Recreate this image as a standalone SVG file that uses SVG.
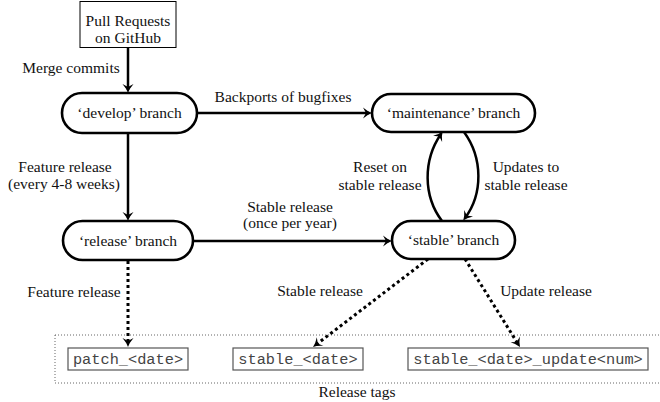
<svg xmlns="http://www.w3.org/2000/svg" width="660" height="402" viewBox="0 0 660 402">
<style>
  .t { font-family: "Liberation Serif", "Times New Roman", serif; font-size: 15.5px; fill: #111; text-anchor: middle; }
  .m { font-family: "Liberation Mono", "Courier New", monospace; font-size: 15.3px; fill: #444; text-anchor: middle; }
  .node { fill: #fff; stroke: #000; stroke-width: 2.6; }
  .box { fill: #fff; stroke: #000; stroke-width: 1; }
  .tag { fill: #fff; stroke: #555; stroke-width: 1.2; }
  .c { fill: none; stroke: #000; stroke-width: 2.5; marker-end: url(#ah); }
  .d { fill: none; stroke: #000; stroke-width: 3; stroke-dasharray: 3 3; marker-end: url(#ah); }
</style>
<defs>
  <marker id="ah" viewBox="-12 -7 14 14" refX="-3" refY="0" markerWidth="14" markerHeight="14" markerUnits="userSpaceOnUse" orient="auto">
    <path d="M-9,-5.5 Q-4,-1.2 0,0 Q-4,1.2 -9,5.5 L-6,0 Z" fill="#000"/>
  </marker>
</defs>
<rect x="55" y="335" width="620" height="48" fill="none" stroke="#666" stroke-width="1" stroke-dasharray="1 2"/>
<g id="connectors">
  <line class="c" x1="128" y1="48" x2="128" y2="90"/>
  <line class="c" x1="128" y1="133" x2="128" y2="218"/>
  <line class="c" x1="197" y1="113" x2="369" y2="113"/>
  <line class="c" x1="193" y1="241" x2="389" y2="241"/>
  <path class="c" d="M442,221 C423,196 423,160 441,134"/>
  <path class="c" d="M464,132 C483,158 483,194 465,218"/>
  <line class="d" x1="128" y1="261" x2="128" y2="344"/>
  <line class="d" x1="428" y1="259" x2="315.4" y2="345.2"/>
  <line class="d" x1="465" y1="259" x2="518.4" y2="344.5"/>
  <text class="t" x="71" y="73">Merge commits</text>
  <text class="t" x="283" y="102">Backports of bugfixes</text>
  <text class="t" x="65" y="172">Feature release</text>
  <text class="t" x="64" y="189">(every 4-8 weeks)</text>
  <text class="t" x="290" y="212">Stable release</text>
  <text class="t" x="290" y="228">(once per year)</text>
  <text class="t" x="380" y="172">Reset on</text>
  <text class="t" x="380" y="190">stable release</text>
  <text class="t" x="526" y="172">Updates to</text>
  <text class="t" x="526" y="190">stable release</text>
  <text class="t" x="74" y="297">Feature release</text>
  <text class="t" x="320" y="296">Stable release</text>
  <text class="t" x="546" y="296">Update release</text>
</g>
<g id="pull-requests">
  <rect class="box" x="80" y="1.5" width="96" height="46"/>
  <text class="t" x="128" y="26">Pull Requests</text>
  <text class="t" x="128" y="43">on GitHub</text>
</g>
<g id="develop">
  <rect class="node" x="62" y="93" width="135" height="40" rx="20"/>
  <text class="t" x="129.5" y="117.5">‘develop’ branch</text>
</g>
<g id="maintenance">
  <rect class="node" x="372" y="94" width="163" height="38" rx="19"/>
  <text class="t" x="453.5" y="118">‘maintenance’ branch</text>
</g>
<g id="release">
  <rect class="node" x="63" y="221" width="130" height="39" rx="19.5"/>
  <text class="t" x="128" y="245.5">‘release’ branch</text>
</g>
<g id="stable">
  <rect class="node" x="392" y="221" width="123" height="38" rx="19"/>
  <text class="t" x="453.5" y="244.5">‘stable’ branch</text>
</g>
<g id="tag-patch">
  <rect class="tag" x="68" y="348" width="120" height="22"/>
  <text class="m" x="128" y="364">patch_&lt;date&gt;</text>
</g>
<g id="tag-stable">
  <rect class="tag" x="233" y="348" width="130" height="22"/>
  <text class="m" x="298" y="364">stable_&lt;date&gt;</text>
</g>
<g id="tag-update">
  <rect class="tag" x="408" y="348" width="240" height="22"/>
  <text class="m" x="528" y="364">stable_&lt;date&gt;_update&lt;num&gt;</text>
</g>
<text class="t" x="357" y="397">Release tags</text>
</svg>
